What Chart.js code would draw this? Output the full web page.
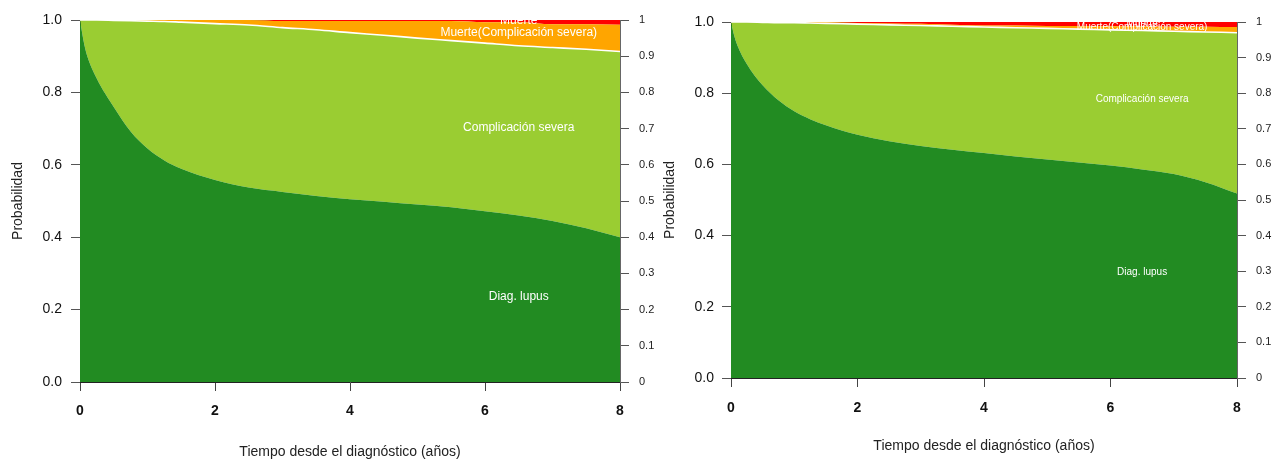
<!DOCTYPE html>
<html>
<head>
<meta charset="utf-8">
<script src="https://cdn.jsdelivr.net/npm/chart.js@4.4.1/dist/chart.umd.min.js"></script>
<style>
  html, body { margin: 0; padding: 0; background: #ffffff; width: 1279px; height: 461px; overflow: hidden; }
  canvas { position: absolute; top: 0; }
</style>
</head>
<body>
<canvas id="c1" width="680" height="461" style="left:0px"></canvas>
<canvas id="c2" width="639" height="461" style="left:640px"></canvas>
<script>
// ---- Data ----
const time = [0, 0.05, 0.1, 0.25, 0.5, 0.75, 1, 1.25, 1.5, 2, 2.5, 3, 3.5, 4, 4.5, 5, 5.5, 6, 6.5, 7, 7.5, 8];

// Left panel
const leftLupus = [1.000, 0.945, 0.905, 0.838, 0.760, 0.692, 0.645, 0.612, 0.589, 0.558, 0.537, 0.525, 0.514, 0.505, 0.498, 0.490, 0.483, 0.472, 0.460, 0.445, 0.425, 0.400];
const leftLupusPlusComp = [1.000, 1.000, 1.000, 1.000, 0.999, 0.998, 0.997, 0.996, 0.994, 0.990, 0.986, 0.979, 0.973, 0.965, 0.958, 0.950, 0.943, 0.936, 0.929, 0.924, 0.919, 0.913];
const leftDeath = [0, 0, 0, 0, 0, 0, 0, 0, 0, 0, 0, 0.003, 0.003, 0.003, 0.003, 0.003, 0.003, 0.006, 0.006, 0.012, 0.012, 0.013];

// Right panel
const rightLupus = [1.000, 0.962, 0.935, 0.882, 0.822, 0.780, 0.749, 0.727, 0.710, 0.683, 0.665, 0.652, 0.641, 0.632, 0.622, 0.614, 0.605, 0.597, 0.586, 0.573, 0.550, 0.518];
const rightLupusPlusComp = [1.000, 1.000, 1.000, 1.000, 0.999, 0.998, 0.998, 0.997, 0.996, 0.994, 0.992, 0.990, 0.988, 0.986, 0.984, 0.982, 0.980, 0.978, 0.976, 0.974, 0.972, 0.970];
const rightDeath = [0, 0, 0, 0, 0, 0, 0, 0, 0, 0.003, 0.004, 0.005, 0.008, 0.010, 0.010, 0.011, 0.011, 0.012, 0.012, 0.013, 0.013, 0.014];

const stateNames = ["Diag. lupus", "Complicación severa", "Muerte(Complicación severa)", "Muerte"];
const stateColors = ["#228B22", "#9ACD32", "#FFA500", "#FF0000"];
const xTicks = [0, 2, 4, 6, 8];
const xTitle = "Tiempo desde el diagnóstico (años)";
const yTitle = "Probabilidad";

// label anchors (time, probability) for the state names
const leftLabelAt = [[6.5, 0.235], [6.5, 0.702], [6.5, 0.964], [6.5, 0.997]];
const rightLabelAt = [[6.5, 0.298], [6.5, 0.784], [6.5, 0.986], [6.5, 0.994]];

const FONT = "'Liberation Sans', Arial, Helvetica, sans-serif";

function pts(vals) { return time.map((t, i) => ({ x: t, y: vals[i] })); }

function buildLayers(lupus, lupusComp, death) {
  const comp = lupusComp.map((v, i) => +(v - lupus[i]).toFixed(4));
  const deathComp = lupusComp.map((v, i) => +(1 - v - death[i]).toFixed(4));
  return [lupus, comp, deathComp, death];
}

const stateLabels = {
  id: 'stateLabels',
  afterDatasetsDraw(chart, args, opts) {
    const { ctx, chartArea, scales } = chart;
    ctx.save();
    ctx.beginPath();
    ctx.rect(chartArea.left, chartArea.top, chartArea.width, chartArea.height);
    ctx.clip();
    ctx.fillStyle = '#ffffff';
    ctx.textAlign = 'center';
    ctx.textBaseline = 'middle';
    ctx.font = opts.size + 'px ' + FONT;
    opts.anchors.forEach((a, i) => {
      ctx.fillText(stateNames[i], scales.x.getPixelForValue(a[0]), scales.y.getPixelForValue(a[1]));
    });
    ctx.restore();
  }
};

function makeChart(id, lupus, lupusComp, death, g) {
  const layers = buildLayers(lupus, lupusComp, death);
  const datasets = layers.map((vals, i) => ({
    label: stateNames[i],
    data: pts(vals),
    backgroundColor: stateColors[i],
    borderColor: i === 1 ? '#ffffff' : 'rgba(0,0,0,0)',
    borderWidth: i === 1 ? 1.6 : 0,
    pointRadius: 0,
    cubicInterpolationMode: 'monotone',
    fill: i === 0 ? 'origin' : '-1',
    yAxisID: 'y'
  }));
  return new Chart(document.getElementById(id), {
    type: 'line',
    data: { datasets },
    plugins: [stateLabels],
    options: {
      responsive: false,
      animation: false,
      events: [],
      layout: { padding: { top: g.top, left: 0, right: 0, bottom: 0 } },
      plugins: {
        legend: { display: false },
        tooltip: { enabled: false },
        filler: { drawTime: 'beforeDatasetsDraw' },
        stateLabels: { anchors: g.anchors, size: g.labelSize }
      },
      scales: {
        x: {
          type: 'linear', position: 'bottom', min: 0, max: 8,
          afterBuildTicks: s => { s.ticks = xTicks.map(v => ({ value: v })); },
          ticks: { color: '#111', font: { family: FONT, size: 14, weight: 'bold' }, padding: g.xPad, maxRotation: 0 },
          grid: { drawOnChartArea: false, tickLength: 9, color: '#444', lineWidth: 1 },
          border: { display: true, color: '#222', width: 1 },
          title: { display: true, text: xTitle, color: '#222', font: { family: FONT, size: 14 }, padding: { top: 0, bottom: g.xTitlePad } },
          afterFit: s => { s.height = g.xh; }
        },
        xTop: {
          type: 'linear', position: 'top', min: 0, max: 8,
          ticks: { display: false },
          grid: { display: false, drawOnChartArea: false, drawTicks: false },
          border: { display: true, color: '#999', width: 1 },
          afterFit: s => { s.height = 0; }
        },
        y: {
          type: 'linear', position: 'left', stacked: true, min: 0, max: 1,
          ticks: { stepSize: 0.2, color: '#111', font: { family: FONT, size: 14 }, padding: g.yPad,
                   callback: v => Number(v).toFixed(1) },
          grid: { drawOnChartArea: false, tickLength: 9, color: '#555' },
          border: { display: true, color: '#222', width: 1 },
          title: { display: true, text: yTitle, color: '#222', font: { family: FONT, size: 14 }, padding: { top: g.yTitlePad, bottom: 0 } },
          afterFit: s => { s.width = g.yw; }
        },
        y2: {
          type: 'linear', position: 'right', min: 0, max: 1,
          ticks: { stepSize: 0.1, color: '#222', font: { family: FONT, size: 11 }, padding: 10,
                   callback: v => String(Number(Number(v).toFixed(1))) },
          grid: { drawOnChartArea: false, tickLength: 9, color: '#555' },
          border: { display: true, color: '#666', width: 1 },
          afterFit: s => { s.width = g.y2w; }
        }
      }
    }
  });
}

makeChart('c1', leftLupus, leftLupusPlusComp, leftDeath,
  { top: 20, xh: 79, yw: 80, y2w: 60, xPad: 12, xTitlePad: 0, yPad: 9, yTitlePad: 10, anchors: leftLabelAt, labelSize: 12 });
makeChart('c2', rightLupus, rightLupusPlusComp, rightDeath,
  { top: 22, xh: 83, yw: 91, y2w: 42, xPad: 13, xTitlePad: 6, yPad: 8, yTitlePad: 22, anchors: rightLabelAt, labelSize: 10 });
</script>
</body>
</html>
